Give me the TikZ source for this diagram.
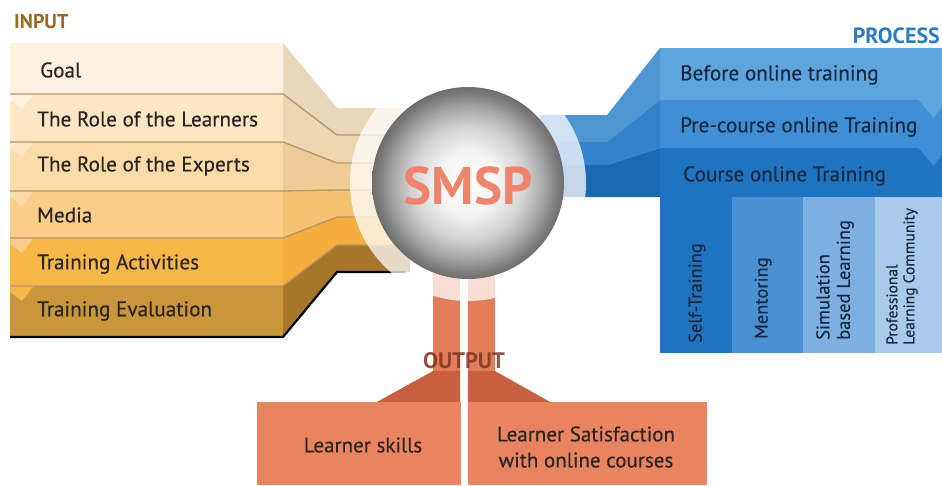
\documentclass[tikz,border=0pt]{standalone}
\usepackage{fontspec}
\setmainfont{PT Sans}
\newfontfamily\medfont[FakeBold=0.35]{PT Sans}
\definecolor{in1}{HTML}{FDF2E0}
\definecolor{in2}{HTML}{FCE6C4}
\definecolor{in3}{HTML}{FBDBA8}
\definecolor{in4}{HTML}{FACD88}
\definecolor{in5}{HTML}{F8B848}
\definecolor{in6}{HTML}{C99639}
\definecolor{sd1}{HTML}{EAD6B8}
\definecolor{sd2}{HTML}{EDD6B2}
\definecolor{sd3}{HTML}{EFCC95}
\definecolor{sd4}{HTML}{F3C272}
\definecolor{sd5}{HTML}{F5AE3C}
\definecolor{sd6}{HTML}{A67728}
\definecolor{insep}{HTML}{B8956A}
\definecolor{inlabel}{HTML}{9C6820}
\definecolor{bl1}{HTML}{5FA5DD}
\definecolor{bl2}{HTML}{3F8FD4}
\definecolor{bl3}{HTML}{1F74C0}
\definecolor{bs1}{HTML}{4E95D2}
\definecolor{bs2}{HTML}{3283CB}
\definecolor{bs3}{HTML}{1A69B4}
\definecolor{col2}{HTML}{4A91D2}
\definecolor{col3}{HTML}{7DB0E0}
\definecolor{col4}{HTML}{A9CBEB}
\definecolor{proclabel}{HTML}{2C7BC6}
\definecolor{navy}{HTML}{17283F}
\definecolor{stem}{HTML}{E27D5A}
\definecolor{trap}{HTML}{C8603F}
\definecolor{obox}{HTML}{E8845F}
\definecolor{outlabel}{HTML}{7E3622}
\definecolor{smsp}{HTML}{F0846A}
\definecolor{dtext}{HTML}{2A2522}
\pgfdeclareradialshading{sphereshade}{\pgfpoint{0bp}{0bp}}{%
  color(0bp)=(white); color(8bp)=(black!4); color(15bp)=(black!18);
  color(20bp)=(black!36); color(23.5bp)=(black!52); color(25bp)=(black!57); color(50bp)=(black!57)}
\tikzset{
  intext/.style={anchor=west, text=dtext, font=\medfont\fontsize{21.2}{24}\selectfont, inner sep=0pt},
  bandtext/.style={anchor=west, text=navy, font=\medfont\fontsize{21.2}{24}\selectfont, inner sep=0pt},
  coltext/.style={rotate=90, anchor=west, text=navy, align=left, inner sep=0pt,
                  font=\medfont\fontsize{18.5}{20.5}\selectfont},
  outtext/.style={text=dtext, align=center, inner sep=0pt, font=\medfont\fontsize{21}{26}\selectfont},
  headlabel/.style={font=\bfseries\fontsize{20}{22}\selectfont, inner sep=0pt}
}
\begin{document}
\begin{tikzpicture}[x=1pt,y=-1pt]
\useasboundingbox (0,0) rectangle (942,485);

% ---------- INPUT strips ----------
\foreach \a/\b/\c/\d/\col/\sd in {43/94/108/135/in1/sd1, 94/142/135/163/in2/sd2,
  142/191/163/190/in3/sd3, 191/238/190/217/in4/sd4, 238/286/217/245/in5/sd5,
  286/337/245/272/in6/sd6}{
  \fill[\sd] (283,\a) -- (337,\c) -- (410,\c) -- (410,\d) -- (337,\d) -- (283,\b) -- cycle;
  \fill[\col] (10,\a) rectangle (283,\b);
}
% chevrons on the left edge
\foreach \y/\col in {94/in1, 142/in2, 191/in3, 238/in4, 286/in5}{
  \fill[\col] (10,\y-0.5) -- (34,\y-0.5) -- (22,\y+15) -- (10,\y+6) -- cycle;
}
% separators
\foreach \y/\yy in {94/135, 142/163, 191/190, 238/217, 286/245}{
  \draw[insep, line width=1.3pt] (10,\y) -- (283,\y) -- (337,\yy) -- (410,\yy);
}
\draw[black, line width=2.2pt] (10,337) -- (283,337) -- (337,272) -- (405,272);

% ---------- PROCESS bands ----------
\foreach \a/\b/\c/\d/\col/\sd in {48/100/115/142/bl1/bs1, 100/148/142/165/bl2/bs2,
  148/197/165/197/bl3/bs3}{
  \fill[\sd] (660,\a) -- (607,\c) -- (540,\c) -- (540,\d) -- (607,\d) -- (660,\b) -- cycle;
  \fill[\col] (660,\a) rectangle (942,\b);
}
\foreach \y/\col in {100/bl1, 148/bl2}{
  \fill[\col] (918,\y-0.5) -- (942,\y-0.5) -- (942,\y+6) -- (934,\y+18) -- cycle;
}
% sub columns
\fill[bl3]  (660,197) rectangle (732,353);
\fill[col2] (732,197) rectangle (803,353);
\fill[col3] (803,197) rectangle (875,353);
\fill[col4] (875,197) rectangle (942,353);

% ---------- OUTPUT ----------
\fill[stem] (433,255) rectangle (460,372);
\fill[stem] (468,255) rectangle (495,372);
\fill[trap] (433,371) -- (460,371) -- (460,403) -- (375,403) -- cycle;
\fill[trap] (468,371) -- (495,371) -- (552,403) -- (468,403) -- cycle;
\fill[obox] (257,402) rectangle (461,485);
\fill[obox] (468,402) rectangle (707,485);

% ---------- ring and sphere ----------
\fill[white, opacity=0.74] (468,183) circle (118pt);
\shade[shading=sphereshade] (468,183) circle (96pt);
\node[text=smsp, font=\bfseries\fontsize{53}{60}\selectfont, inner sep=0pt] (smsp) at (468,186) {SMSP};

% ---------- labels ----------
\node[headlabel, text=inlabel, anchor=west] (input) at (14,22) {INPUT};
\node[headlabel, text=proclabel, anchor=east, font=\bfseries\fontsize{22}{24}\selectfont] (process) at (940,36) {PROCESS};
\node[headlabel, text=outlabel, opacity=0.85, font=\bfseries\fontsize{22.5}{24}\selectfont] (output) at (464,361) {OUTPUT};

\node[intext] (goal) at (40,70) {Goal};
\node[intext] (learners) at (37,119) {The Role of the Learners};
\node[intext] (experts) at (37,166) {The Role of the Experts};
\node[intext] (media) at (37,215) {Media};
\node[intext] (activities) at (37,264) {Training Activities};
\node[intext] (evaluation) at (37,311) {Training Evaluation};

\node[bandtext] (before) at (680,75) {Before online training};
\node[bandtext] (precourse) at (680,127) {Pre-course online Training};
\node[bandtext] (course) at (683,176) {Course online Training};

\node[coltext] (self) at (697,343) {Self-Training};
\node[coltext] (mentor) at (763,339) {Mentoring};
\node[coltext] (sim) at (835,340) {Simulation\\based Learning};
\node[coltext, font=\medfont\fontsize{15.5}{17}\selectfont] (plc) at (902,345) {Professional\\Learning Community};

\node[outtext] (skills) at (363,445) {Learner skills};
\node[outtext] (satis) at (586,447) {Learner Satisfaction\\with online courses};
\end{tikzpicture}
\end{document}
